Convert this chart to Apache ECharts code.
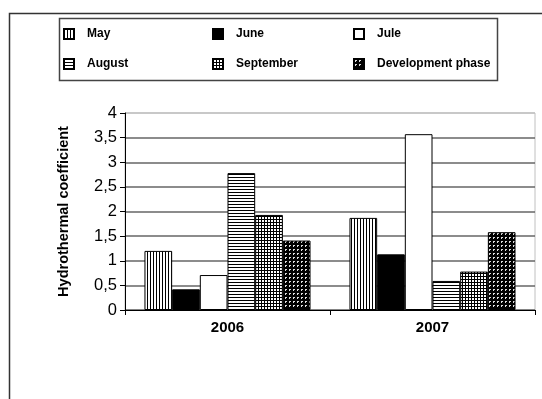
<!DOCTYPE html>
<html>
<head>
<meta charset="utf-8">
<script src="https://cdn.jsdelivr.net/npm/echarts@6/dist/echarts.min.js"></script>
<style>
  html, body { margin: 0; padding: 0; background: #fff; }
  #chart { width: 542px; height: 399px; }
</style>
</head>
<body>
<div id="chart"></div>
<script>
// Hydrothermal coefficient by month, 2006-2007
const years = ['2006', '2007'];
const seriesNames = ['May', 'June', 'Jule', 'August', 'September', 'Development phase'];
const may = [1.20, 1.87];
const june = [0.42, 1.13];
const jule = [0.71, 3.57];
const august = [2.78, 0.59];
const september = [1.93, 0.78];
const developmentPhase = [1.41, 1.58];
const yTicks = [0, 0.5, 1, 1.5, 2, 2.5, 3, 3.5, 4];

// Monochrome hatch fills drawn into small repeating tiles
function tile(size, draw) {
  const c = document.createElement('canvas');
  c.width = size; c.height = size;
  const g = c.getContext('2d');
  draw(g, size);
  return { image: c, repeat: 'repeat' };
}
const fills = [
  tile(3, (g, s) => { g.fillStyle = '#fff'; g.fillRect(0, 0, s, s); g.fillStyle = '#000'; g.fillRect(0, 0, 1, s); }),
  '#000',
  '#fff',
  tile(3, (g, s) => { g.fillStyle = '#fff'; g.fillRect(0, 0, s, s); g.fillStyle = '#000'; g.fillRect(0, 0, s, 1); }),
  tile(3, (g, s) => { g.fillStyle = '#fff'; g.fillRect(0, 0, s, s); g.fillStyle = '#000'; g.fillRect(0, 0, 1, s); g.fillRect(0, 0, s, 1); }),
  tile(4, (g, s) => { g.fillStyle = '#000'; g.fillRect(0, 0, s, s); g.fillStyle = '#ddd'; g.fillRect(1, 1, 2, 1); g.fillRect(1, 2, 1, 1); })
];
const values = [may, june, jule, august, september, developmentPhase];

const FONT = '"Liberation Sans", Arial, sans-serif';
const legendSpots = [
  [58, 23], [207, 23], [348, 23],
  [58, 53], [207, 53], [348, 53]
];

const chart = echarts.init(document.getElementById('chart'), null, { renderer: 'canvas' });
chart.setOption({
  animation: false,
  backgroundColor: '#fff',
  textStyle: { fontFamily: FONT },
  graphic: [
    { type: 'rect', shape: { x: 9.5, y: 13.5, width: 600, height: 450 },
      style: { fill: 'none', stroke: '#333', lineWidth: 1.5 }, silent: true },
    { type: 'rect', shape: { x: 59.5, y: 18.5, width: 438, height: 62 },
      style: { fill: 'none', stroke: '#444', lineWidth: 1.5 }, silent: true }
  ],
  legend: seriesNames.map((name, i) => ({
    data: [name],
    left: legendSpots[i][0],
    top: legendSpots[i][1],
    orient: 'horizontal',
    itemWidth: 10,
    itemHeight: 10,
    icon: 'rect',
    selectedMode: false,
    textStyle: { fontFamily: FONT, fontSize: 12, fontWeight: 'bold', color: '#000', padding: [0, 0, 0, 8] }
  })),
  grid: {
    left: 125, top: 113, right: 7, bottom: 89,
    show: true, borderColor: '#c0c0c0', borderWidth: 1
  },
  xAxis: {
    type: 'category',
    data: years,
    axisLine: { lineStyle: { color: '#000', width: 1 } },
    axisTick: { show: true, length: 5, lineStyle: { color: '#000' } },
    axisLabel: { color: '#000', fontSize: 15, fontWeight: 'bold', fontFamily: FONT, margin: 10 }
  },
  yAxis: {
    type: 'value',
    min: yTicks[0],
    max: yTicks[yTicks.length - 1],
    interval: 0.5,
    name: 'Hydrothermal coefficient',
    nameLocation: 'middle',
    nameGap: 54,
    nameTextStyle: { color: '#000', fontSize: 14.5, fontWeight: 'bold', fontFamily: FONT },
    axisLine: { show: true, lineStyle: { color: '#000', width: 1 } },
    axisTick: { show: true, length: 5, lineStyle: { color: '#000' } },
    axisLabel: {
      color: '#000', fontSize: 16.5, fontFamily: FONT, margin: 8,
      formatter: v => String(v).replace('.', ',')
    },
    splitLine: {
      show: true,
      lineStyle: { color: ['#666', '#666', '#666', '#666', '#666', '#666', '#666', '#666', '#c0c0c0'], width: 1.5 }
    }
  },
  series: seriesNames.map((name, i) => ({
    name,
    type: 'bar',
    data: values[i],
    barGap: '0%',
    barCategoryGap: '19%',
    itemStyle: { color: fills[i], borderColor: '#000', borderWidth: 1 }
  }))
});
</script>
</body>
</html>
